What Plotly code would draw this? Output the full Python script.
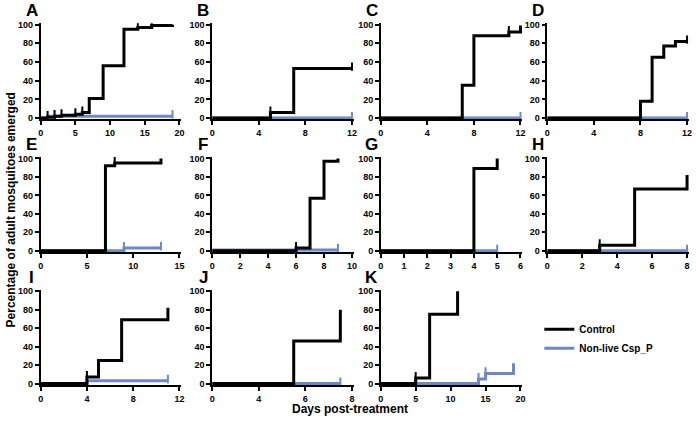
import plotly.graph_objects as go

# --- data: cumulative % adults emerged (step curves) ---
PANELS = ["A", "B", "C", "D", "E", "F", "G", "H", "I", "J", "K"]

A_ctl_t = [0, 1, 2, 3, 5, 6, 7, 9, 12, 14, 16, 19]
A_ctl_y = [0, 1, 2, 3, 4, 6, 21, 56, 95, 97, 99, 100]
A_np_t = [0, 1, 19]
A_np_y = [0, 2, 2]

B_ctl_t = [0, 5, 7, 12]
B_ctl_y = [0, 6, 53, 53]
B_np_t = [0, 5, 12]
B_np_y = [0, 0, 0]

C_ctl_t = [0, 7, 8, 11, 12]
C_ctl_y = [0, 35, 88, 92, 99]
C_np_t = [0, 12]
C_np_y = [0, 0]

D_ctl_t = [0, 8, 9, 10, 11, 12]
D_ctl_y = [0, 18, 65, 77, 82, 82]
D_np_t = [0, 12]
D_np_y = [0, 0]

E_ctl_t = [0, 7, 8, 13]
E_ctl_y = [0, 92, 95, 100]
E_np_t = [0, 7, 9, 13]
E_np_y = [0, 0, 3, 3]

F_ctl_t = [0, 6, 7, 8, 9]
F_ctl_y = [0, 3, 57, 97, 100]
F_np_t = [0, 9]
F_np_y = [1, 1]

G_ctl_t = [0, 4, 5]
G_ctl_y = [0, 89, 100]
G_np_t = [0, 5]
G_np_y = [0, 0]

H_ctl_t = [0, 3, 5, 8]
H_ctl_y = [0, 6, 67, 82]
H_np_t = [0, 8]
H_np_y = [0, 0]

I_ctl_t = [0, 4, 5, 7, 11]
I_ctl_y = [0, 7, 25, 69, 82]
I_np_t = [0, 4, 11]
I_np_y = [0, 3, 3]

J_ctl_t = [2, 5.5, 7.5]
J_ctl_y = [0, 46, 80]
J_np_t = [2, 7.5]
J_np_y = [0, 0]

K_ctl_t = [0, 5, 7, 11]
K_ctl_y = [0, 6, 75, 100]
K_np_t = [0, 5, 14, 15, 19]
K_np_y = [0, 0, 5, 11, 22]

# censored ticks (days)
CTL_CENSOR = {"A": [1, 2, 3, 5, 6, 14, 16], "B": [5, 12], "C": [11], "D": [12],
              "E": [8], "F": [6], "H": [3], "I": [4], "K": [5]}
NP_CENSOR = {"A": [19], "B": [12], "C": [12], "D": [12], "E": [9, 13], "F": [9],
             "G": [5], "H": [8], "I": [11], "J": [7.5], "K": [14, 15]}

# x axes: (min, max, tick values, tick text)
X_AXES = {
    "A": (0, 20, [0, 5, 10, 15, 20], None),
    "B": (0, 12, [0, 4, 8, 12], None),
    "C": (0, 12, [0, 4, 8, 12], None),
    "D": (0, 12, [0, 4, 8, 12], None),
    "E": (0, 15, [0, 5, 10, 15], None),
    "F": (0, 10, [0, 2, 4, 6, 8, 10], None),
    "G": (0, 6, [0, 1, 2, 3, 4, 5, 6], None),
    "H": (0, 8, [0, 2, 4, 6, 8], None),
    "I": (0, 12, [0, 4, 8, 12], None),
    "J": (2, 8, [2, 4, 6, 8], ["0", "4", "6", "8"]),
    "K": (0, 20, [0, 5, 10, 15, 20], None),
}
Y_TICKS = [0, 20, 40, 60, 80, 100]

CTL_COLOR = "black"
NP_COLOR = "#6b88c9"

W, H = 696, 423
COL_PX = [(38, 178), (211, 352), (381, 522), (549, 690)]
ROW_PX = [(22, 117), (158, 252), (293, 387)]  # pixel rows of y=100 and y=0
FONT = "Arial, Liberation Sans, sans-serif"


def step_at(ts, ys, x):
    val = ys[0]
    for t, y in zip(ts, ys):
        if t <= x:
            val = y
    return val


fig = go.Figure()
g = globals()
for i, p in enumerate(PANELS):
    row, col = divmod(i, 4)
    ax = "" if i == 0 else str(i + 1)
    xref, yref = "x" + ax, "y" + ax
    ct, cy = g[p + "_ctl_t"], g[p + "_ctl_y"]
    nt, ny = g[p + "_np_t"], g[p + "_np_y"]

    fig.add_trace(go.Scatter(x=nt, y=ny, mode="lines", line=dict(color=NP_COLOR, width=3, shape="hv"),
                             name="Non-live Csp_P", legendgroup="np", showlegend=(i == 0),
                             xaxis=xref, yaxis=yref))
    fig.add_trace(go.Scatter(x=ct, y=cy, mode="lines", line=dict(color=CTL_COLOR, width=3, shape="hv"),
                             name="Control", legendgroup="ctl", showlegend=(i == 0),
                             xaxis=xref, yaxis=yref))
    nc = NP_CENSOR.get(p, [])
    if nc:
        fig.add_trace(go.Scatter(x=nc, y=[step_at(nt, ny, x) + 2 for x in nc], mode="markers",
                                 marker=dict(symbol="line-ns", size=6, line=dict(width=2, color=NP_COLOR)),
                                 showlegend=False, hoverinfo="skip", xaxis=xref, yaxis=yref))
    cc = CTL_CENSOR.get(p, [])
    if cc:
        fig.add_trace(go.Scatter(x=cc, y=[step_at(ct, cy, x) + 2 for x in cc], mode="markers",
                                 marker=dict(symbol="line-ns", size=6, line=dict(width=2, color=CTL_COLOR)),
                                 showlegend=False, hoverinfo="skip", xaxis=xref, yaxis=yref))

    x0, x1 = COL_PX[col]
    xmin, xmax, tv, tt = X_AXES[p]
    xpad = 2 * (xmax - xmin) / (x1 - x0)
    y100, y0 = ROW_PX[row]
    ppu = (y0 - y100) / 100
    ypad = 1.5
    common = dict(showline=True, linecolor="black", linewidth=1.5, ticks="outside", ticklen=4,
                  tickwidth=1.5, tickcolor="black", showgrid=False, zeroline=False,
                  tickfont=dict(family=FONT, size=9, color="black", weight="bold"))
    fig.update_layout(**{
        "xaxis" + ax: dict(domain=[x0 / W, (x1 + 2) / W], range=[xmin, xmax + xpad], tickvals=tv,
                           ticktext=tt, anchor=yref, **common),
        "yaxis" + ax: dict(domain=[1 - (y0 + ypad * ppu) / H, 1 - (y100 - ypad * ppu) / H],
                           range=[-ypad, 100 + ypad], tickvals=Y_TICKS, anchor=xref, **common),
    })
    fig.add_annotation(text=p, xref="paper", yref="paper", x=(x0 - 9) / W, y=1 - (y100 - 14) / H,
                       xanchor="center", yanchor="middle", showarrow=False,
                       font=dict(family=FONT, size=17, color="black", weight="bold"))

fig.add_annotation(text="Days post-treatment", xref="paper", yref="paper", x=350 / W, y=1 - 413 / H,
                   xanchor="center", yanchor="middle", showarrow=False,
                   font=dict(family=FONT, size=12, color="black", weight="bold"))
fig.add_annotation(text="Percentage of adult mosquitoes emerged", xref="paper", yref="paper",
                   x=8 / W, y=1 - 210 / H, xanchor="center", yanchor="middle", textangle=-90,
                   showarrow=False, font=dict(family=FONT, size=12, color="black", weight="bold"))

fig.update_layout(
    width=W, height=H, margin=dict(l=0, r=0, t=0, b=0),
    plot_bgcolor="white", paper_bgcolor="white",
    legend=dict(x=541 / W, y=1 - 317 / H, xanchor="left", yanchor="top", traceorder="reversed",
                font=dict(family=FONT, size=10, color="black", weight="bold"),
                bgcolor="rgba(0,0,0,0)", itemwidth=30, tracegroupgap=0),
)
# page body has a default 8px margin; remove it so the figure fills the window
fig.write_html("out.html", config={"displayModeBar": False},
               post_script="document.body.style.margin='0px';")
